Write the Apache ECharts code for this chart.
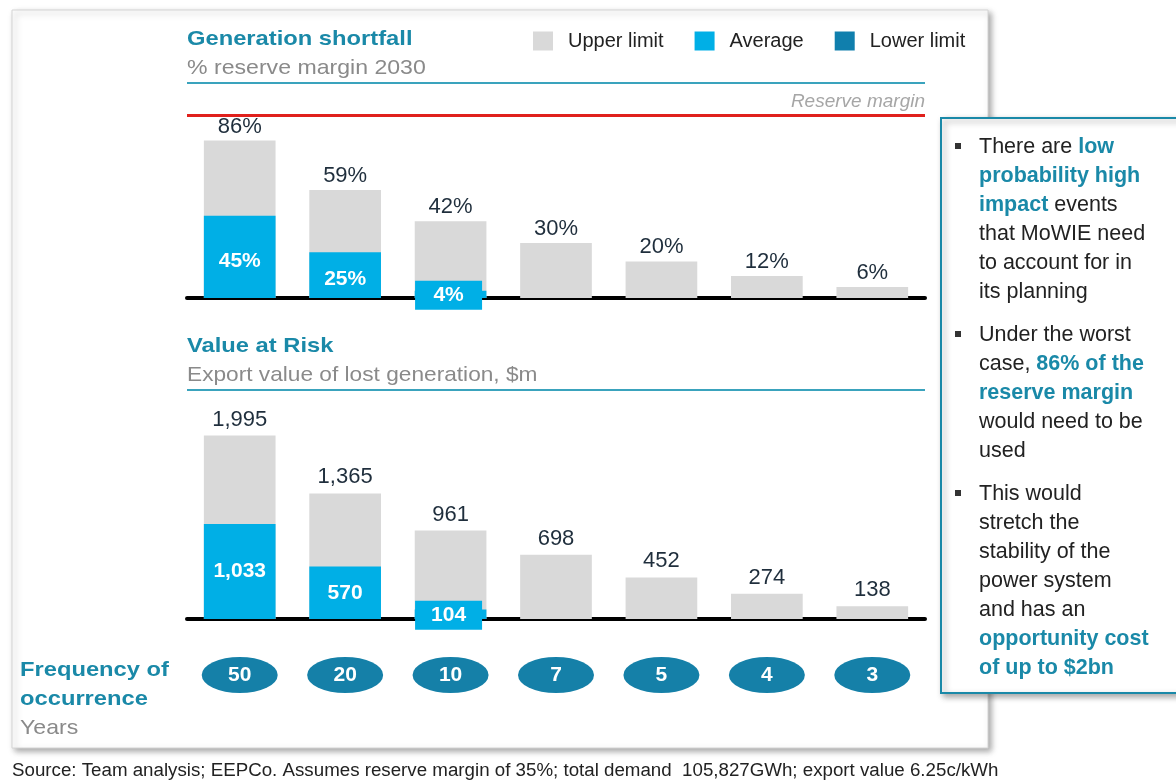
<!DOCTYPE html>
<html>
<head>
<meta charset="utf-8">
<script src="https://cdn.jsdelivr.net/npm/echarts@6/dist/echarts.min.js"></script>
<style>
  html, body { margin: 0; padding: 0; background: #fff; }
  #main { width: 1176px; height: 782px; }
</style>
</head>
<body>
<div id="main"></div>
<script>
// categories = frequency of occurrence (years)
var years = ['50', '20', '10', '7', '5', '4', '3'];

// generation shortfall, % reserve margin 2030
var shortUpper = [86, 59, 42, 30, 20, 12, 6];
var shortAverage = [45, 25, 4, null, null, null, null];
var reserveMargin = 100;

// value at risk, export value of lost generation $m
var varUpper = [1995, 1365, 961, 698, 452, 274, 138];
var varAverage = [1033, 570, 104, null, null, null, null];

var lowerLimit = [];

var TEAL = '#1a89a8';
var BLUE = '#00afe6';
var DARKBLUE = '#107fad';
var GREY = '#d9d9d9';
var FONT = 'Liberation Sans, Arial, sans-serif';

var chart = echarts.init(document.getElementById('main'));

function fmt(v) {
    return v.toLocaleString('en-US');
}

// static text, stretched a little like the original slide
function txt(x, y, s, size, color, bold, sx) {
    return {
        type: 'text', x: x, y: y, scaleX: sx || 1.12, z: 20,
        style: {
            text: s, fill: color, fontFamily: FONT, fontSize: size,
            fontWeight: bold ? 'bold' : 'normal', verticalAlign: 'middle'
        }
    };
}

// average bars: a tiny bar gets its label drawn as a blue box over the axis line
function avgData(arr, max) {
    return arr.map(function (v) {
        if (v == null) return null;
        if (v / max < 0.1) {
            return {
                value: v,
                label: {
                    position: 'inside',
                    offset: [-2, 1],
                    backgroundColor: BLUE,
                    width: 67,
                    height: 29,
                    align: 'center',
                    verticalAlign: 'middle',
                    lineHeight: 29
                }
            };
        }
        return v;
    });
}

var bullet = {
    fontWeight: 'bold', fill: TEAL, fontSize: 21.5, fontFamily: FONT, lineHeight: 29
};

var option = {
    animation: false,
    textStyle: { fontFamily: FONT },
    legend: {
        data: ['Upper limit', 'Average', 'Lower limit'],
        left: 533,
        top: 31,
        padding: 0,
        icon: 'rect',
        itemWidth: 20,
        itemHeight: 19,
        itemGap: 31,
        textStyle: { fontSize: 20, color: '#222', fontFamily: FONT, padding: [0, 0, 0, 10] }
    },
    grid: [
        { left: 187, width: 738, top: 115, height: 183 },
        { left: 187, width: 738, top: 435, height: 184 },
        { left: 187, width: 738, top: 655, height: 40 }
    ],
    xAxis: [0, 1, 2].map(function (i) {
        return {
            type: 'category',
            gridIndex: i,
            data: years,
            axisLine: { show: i < 2, onZero: false, lineStyle: { color: '#000', width: 4 } },
            axisTick: { show: false },
            axisLabel: { show: false },
            splitLine: { show: false }
        };
    }),
    yAxis: [
        { type: 'value', gridIndex: 0, min: 0, max: 100, show: false, splitLine: { show: false } },
        { type: 'value', gridIndex: 1, min: 0, max: 2000, show: false, splitLine: { show: false } },
        { type: 'value', gridIndex: 2, min: -1, max: 1, show: false, splitLine: { show: false } }
    ],
    series: [
        {
            name: 'Upper limit', type: 'bar', xAxisIndex: 0, yAxisIndex: 0,
            data: shortUpper, barWidth: '68%', barGap: '-100%',
            itemStyle: { color: GREY },
            label: { show: true, position: 'top', distance: 3, fontSize: 22, color: '#1f2e3c', formatter: function (p) { return p.value + '%'; } },
            markLine: {
                symbol: 'none', silent: true,
                lineStyle: { color: '#e0201c', width: 3, type: 'solid' },
                label: { position: 'insideEndTop', formatter: 'Reserve margin', fontSize: 19, fontStyle: 'italic', color: '#a6a6a6', distance: [0, 4] },
                data: [{ yAxis: reserveMargin }]
            }
        },
        {
            name: 'Average', type: 'bar', xAxisIndex: 0, yAxisIndex: 0,
            data: avgData(shortAverage, 100), barWidth: '68%', barGap: '-100%',
            itemStyle: { color: BLUE },
            label: { show: true, position: 'inside', offset: [0, 4], fontSize: 21, fontWeight: 'bold', color: '#fff', formatter: function (p) { return p.value + '%'; } }
        },
        {
            name: 'Lower limit', type: 'bar', xAxisIndex: 0, yAxisIndex: 0,
            data: lowerLimit, barWidth: '68%', barGap: '-100%',
            itemStyle: { color: DARKBLUE }
        },
        {
            name: 'Upper limit', type: 'bar', xAxisIndex: 1, yAxisIndex: 1,
            data: varUpper, barWidth: '68%', barGap: '-100%',
            itemStyle: { color: GREY },
            label: { show: true, position: 'top', distance: 5, fontSize: 22, color: '#1f2e3c', formatter: function (p) { return fmt(p.value); } }
        },
        {
            name: 'Average', type: 'bar', xAxisIndex: 1, yAxisIndex: 1,
            data: avgData(varAverage, 2000), barWidth: '68%', barGap: '-100%',
            itemStyle: { color: BLUE },
            label: { show: true, position: 'inside', fontSize: 21, fontWeight: 'bold', color: '#fff', formatter: function (p) { return fmt(p.value); } }
        },
        {
            name: 'Frequency', type: 'scatter', xAxisIndex: 2, yAxisIndex: 2,
            data: years.map(function (y) { return [y, 0]; }),
            symbol: 'circle', symbolSize: [76, 36],
            itemStyle: { color: '#1580a8', opacity: 1 },
            label: { show: true, position: 'inside', fontSize: 21, fontWeight: 'bold', color: '#fff', formatter: function (p) { return p.value[0]; } }
        }
    ],
    graphic: [
        {
            type: 'rect', z: -10,
            shape: { x: 12, y: 10, width: 976, height: 738 },
            style: { fill: '#fff', stroke: '#d4d4d4', lineWidth: 1, shadowColor: 'rgba(0,0,0,0.35)', shadowBlur: 6, shadowOffsetX: 3, shadowOffsetY: 3 }
        },
        txt(187, 39, 'Generation shortfall', 21, TEAL, true, 1.13),
        txt(187, 68, '% reserve margin 2030', 21, '#8a8a8a', false, 1.1),
        txt(187, 346, 'Value at Risk', 21, TEAL, true, 1.13),
        txt(187, 375, 'Export value of lost generation, $m', 21, '#8a8a8a', false, 1.08),
        txt(20, 670, 'Frequency of', 21, TEAL, true, 1.13),
        txt(20, 699, 'occurrence', 21, TEAL, true, 1.13),
        txt(20, 728, 'Years', 21, '#8a8a8a', false, 1.1),
        txt(12, 771, 'Source: Team analysis; EEPCo. Assumes reserve margin of 35%; total demand  105,827GWh; export value 6.25c/kWh', 18, '#222', false, 1.04),
        { type: 'line', shape: { x1: 187, y1: 83, x2: 925, y2: 83 }, style: { stroke: '#3aa3bd', lineWidth: 2 } },
        { type: 'line', shape: { x1: 187, y1: 390, x2: 925, y2: 390 }, style: { stroke: '#3aa3bd', lineWidth: 2 } },
        {
            type: 'rect', z: 50,
            shape: { x: 941, y: 118, width: 245, height: 575 },
            style: { fill: '#fff', stroke: TEAL, lineWidth: 2, shadowColor: 'rgba(0,0,0,0.35)', shadowBlur: 6, shadowOffsetX: 3, shadowOffsetY: 3 }
        },
        { type: 'rect', z: 51, shape: { x: 955, y: 143, width: 6, height: 6 }, style: { fill: '#333' } },
        { type: 'rect', z: 51, shape: { x: 955, y: 331, width: 6, height: 6 }, style: { fill: '#333' } },
        { type: 'rect', z: 51, shape: { x: 955, y: 490, width: 6, height: 6 }, style: { fill: '#333' } },
        {
            type: 'text', z: 51, x: 979, y: 133,
            style: {
                text: 'There are {b|low}\n{b|probability high}\n{b|impact} events\nthat MoWIE need\nto account for in\nits planning',
                font: '21.5px ' + FONT, fill: '#222', lineHeight: 29, rich: { b: bullet }
            }
        },
        {
            type: 'text', z: 51, x: 979, y: 321,
            style: {
                text: 'Under the worst\ncase, {b|86% of the}\n{b|reserve margin}\nwould need to be\nused',
                font: '21.5px ' + FONT, fill: '#222', lineHeight: 29, rich: { b: bullet }
            }
        },
        {
            type: 'text', z: 51, x: 979, y: 480,
            style: {
                text: 'This would\nstretch the\nstability of the\npower system\nand has an\n{b|opportunity cost}\n{b|of up to $2bn}',
                font: '21.5px ' + FONT, fill: '#222', lineHeight: 29, rich: { b: bullet }
            }
        }
    ]
};

chart.setOption(option);
</script>
</body>
</html>
